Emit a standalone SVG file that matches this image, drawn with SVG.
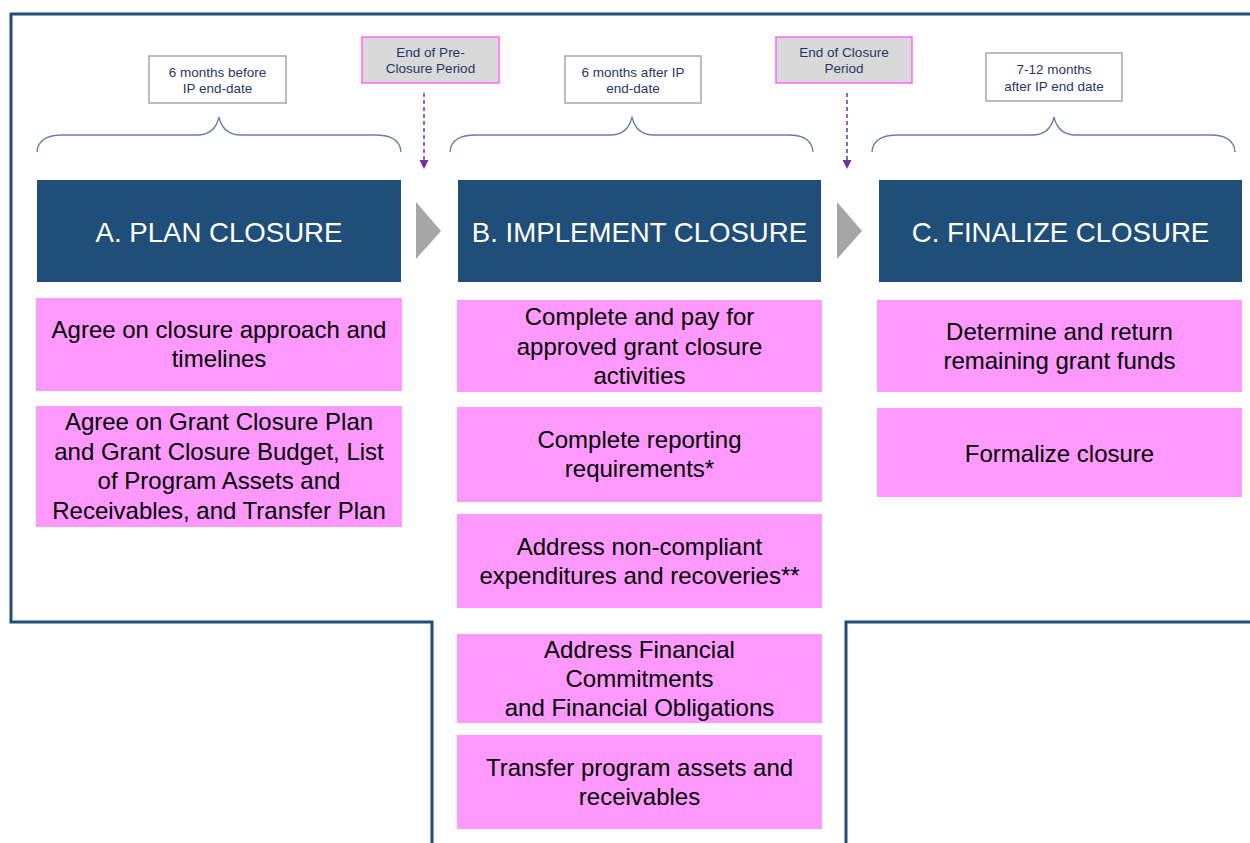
<svg xmlns="http://www.w3.org/2000/svg" width="1250" height="843" viewBox="0 0 1250 843">
<defs>
<style>
.hdr{fill:#1F4E79}
.hdrt{fill:#FFFFFF;font-family:"Liberation Sans",Arial,sans-serif;font-size:27.6px;text-anchor:middle}
.box{fill:#FF99FF}
.bt{fill:#000000;font-family:"Liberation Sans",Arial,sans-serif;font-size:24px;text-anchor:middle}
.lbl{fill:#FFFFFF;stroke:#A6A6A6;stroke-width:1.5}
.end{fill:#D9D9D9;stroke:#FF66FF;stroke-width:1.5}
.lt{fill:#1F3864;font-family:"Liberation Sans",Arial,sans-serif;font-size:13.5px;text-anchor:middle}
.brace{fill:none;stroke:#6A7FA8;stroke-width:1.3}
.dash{stroke:#7030A0;stroke-width:1.5;stroke-dasharray:4,3;fill:none}
.tri{fill:#A6A6A6}
.frame{fill:none;stroke:#1F4E79;stroke-width:3}
</style>
<marker id="ah" viewBox="0 0 10 10" refX="10" refY="5" markerWidth="9" markerHeight="10" markerUnits="userSpaceOnUse" orient="auto">
<path d="M0,0 L10,5 L0,10 Z" fill="#7030A0"/>
</marker>
</defs>
<rect width="1250" height="843" fill="#FFFFFF"/>
<g id="frame">
<path class="frame" d="M1250,14 L11,14 L11,622 L432,622 L432,843"/>
<path class="frame" d="M846,843 L846,622 L1250,622"/>
</g>
<g id="braces">
<path class="brace" d="M37,152 Q38,135 63,135 L197,135 Q215,135 219,117 Q223,135 241,135 L375,135 Q400,135 401,152"/>
<path class="brace" d="M450,152 Q451,135 476,135 L610,135 Q628,135 632,117 Q636,135 654,135 L788,135 Q812,135 813,152"/>
<path class="brace" d="M872,152 Q873,135 898,135 L1032,135 Q1050,135 1054,117 Q1058,135 1076,135 L1210,135 Q1234,135 1235,152"/>
</g>
<g id="label-a">
<rect class="lbl" x="149" y="56" width="137" height="47"/>
<text class="lt" x="217.5" y="77">6 months  before</text>
<text class="lt" x="217.5" y="93">IP end-date</text>
</g>
<g id="label-b">
<rect class="lbl" x="565" y="56" width="136" height="47"/>
<text class="lt" x="633" y="77">6 months  after IP</text>
<text class="lt" x="633" y="93">end-date</text>
</g>
<g id="label-c">
<rect class="lbl" x="986" y="53" width="136" height="48"/>
<text class="lt" x="1054" y="74">7-12  months</text>
<text class="lt" x="1054" y="91">after IP end date</text>
</g>
<g id="end-preclosure">
<rect class="end" x="362" y="37" width="137" height="46"/>
<text class="lt" x="430.5" y="57">End of Pre-</text>
<text class="lt" x="430.5" y="73">Closure Period</text>
</g>
<g id="end-closure">
<rect class="end" x="776" y="37" width="136" height="46"/>
<text class="lt" x="844" y="57">End of Closure</text>
<text class="lt" x="844" y="73">Period</text>
</g>
<g id="connectors">
<line class="dash" x1="424" y1="93" x2="424" y2="169" marker-end="url(#ah)"/>
<line class="dash" x1="847" y1="93" x2="847" y2="169" marker-end="url(#ah)"/>
<path class="tri" d="M416,202 L441,231 L416,259 Z"/>
<path class="tri" d="M837,202 L862,231 L837,259 Z"/>
</g>
<g id="header-a">
<rect class="hdr" x="37" y="180" width="364" height="102"/>
<text class="hdrt" x="219" y="242">A. PLAN CLOSURE</text>
</g>
<g id="header-b">
<rect class="hdr" x="458" y="180" width="363" height="102"/>
<text class="hdrt" x="639.5" y="242">B. IMPLEMENT CLOSURE</text>
</g>
<g id="header-c">
<rect class="hdr" x="879" y="180" width="363" height="102"/>
<text class="hdrt" x="1060.5" y="242">C. FINALIZE CLOSURE</text>
</g>
<g id="a1">
<rect class="box" x="36" y="298" width="366" height="93"/>
<text class="bt" x="219" y="338">Agree on closure approach and</text>
<text class="bt" x="219" y="367">timelines</text>
</g>
<g id="a2">
<rect class="box" x="36" y="406" width="366" height="121"/>
<text class="bt" x="219" y="430">Agree on Grant Closure Plan</text>
<text class="bt" x="219" y="460">and Grant Closure Budget, List</text>
<text class="bt" x="219" y="489">of Program Assets and</text>
<text class="bt" x="219" y="519">Receivables, and Transfer Plan</text>
</g>
<g id="b1">
<rect class="box" x="457" y="300" width="365" height="92"/>
<text class="bt" x="639.5" y="325">Complete and pay for</text>
<text class="bt" x="639.5" y="355">approved grant closure</text>
<text class="bt" x="639.5" y="384">activities</text>
</g>
<g id="b2">
<rect class="box" x="457" y="407" width="365" height="95"/>
<text class="bt" x="639.5" y="448">Complete reporting</text>
<text class="bt" x="639.5" y="477">requirements*</text>
</g>
<g id="b3">
<rect class="box" x="457" y="514" width="365" height="94"/>
<text class="bt" x="639.5" y="555">Address non-compliant</text>
<text class="bt" x="639.5" y="584">expenditures and recoveries**</text>
</g>
<g id="b4">
<rect class="box" x="457" y="634" width="365" height="89"/>
<text class="bt" x="639.5" y="658">Address Financial</text>
<text class="bt" x="639.5" y="687">Commitments</text>
<text class="bt" x="639.5" y="716">and Financial Obligations</text>
</g>
<g id="b5">
<rect class="box" x="457" y="735" width="365" height="94"/>
<text class="bt" x="639.5" y="776">Transfer program assets and</text>
<text class="bt" x="639.5" y="805">receivables</text>
</g>
<g id="c1">
<rect class="box" x="877" y="300" width="365" height="92"/>
<text class="bt" x="1059.5" y="340">Determine and return</text>
<text class="bt" x="1059.5" y="369">remaining grant funds</text>
</g>
<g id="c2">
<rect class="box" x="877" y="408" width="365" height="89"/>
<text class="bt" x="1059.5" y="462">Formalize closure</text>
</g>
</svg>
